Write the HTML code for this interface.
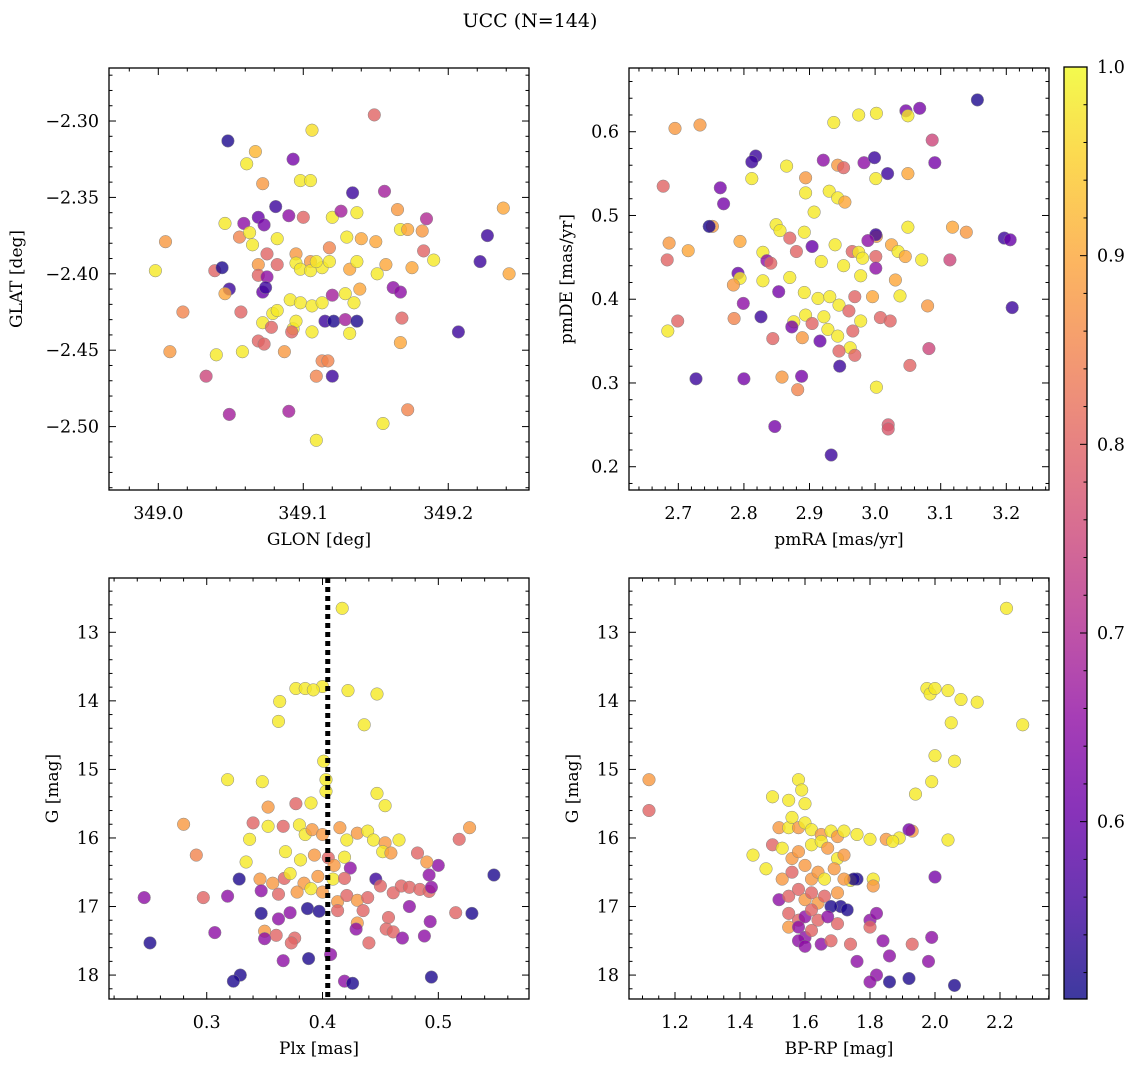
<!DOCTYPE html>
<html><head><meta charset="utf-8"><style>
html,body{margin:0;padding:0;background:#fff;}
svg{display:block;font-family:"DejaVu Serif","Liberation Serif",serif;}
</style></head><body>
<svg id="fig" width="1136" height="1067" viewBox="0 0 1136 1067" xmlns="http://www.w3.org/2000/svg">
<defs><linearGradient id="cbgrad" x1="0" y1="1" x2="0" y2="0"></linearGradient></defs>
<text x="530" y="27" font-size="19" text-anchor="middle">UCC (N=144)</text>
</svg>
<script>
// ---- Panel 1: GLON / GLAT ----
const tlGlon=[349.048,349.149,349.106,349.067,349.061,349.093,349.098,349.105,349.072,349.134,349.156,349.081,349.137,349.165,349.238,349.046,349.059,349.069,349.073,349.090,349.100,349.120,349.126,349.185,349.056,349.063,349.082,349.005,349.065,349.075,349.095,349.105,349.118,349.130,349.140,349.150,349.167,349.172,349.182,349.227,349.222,348.998,349.039,349.044,349.049,349.069,349.069,349.075,349.082,349.095,349.098,349.105,349.113,349.118,349.109,349.132,349.137,349.151,349.157,349.175,349.183,349.190,349.242,349.046,349.057,349.072,349.074,349.079,349.082,349.091,349.098,349.106,349.113,349.120,349.129,349.135,349.139,349.162,349.167,349.017,349.072,349.078,349.093,349.106,349.095,349.115,349.121,349.129,349.137,349.168,349.008,349.040,349.058,349.069,349.073,349.087,349.092,349.132,349.167,349.207,349.113,349.117,349.109,349.120,349.033,349.049,349.090,349.155,349.172,349.109];
const tlGlat=[-2.313,-2.296,-2.306,-2.320,-2.328,-2.325,-2.339,-2.339,-2.341,-2.347,-2.346,-2.356,-2.360,-2.358,-2.357,-2.367,-2.367,-2.363,-2.368,-2.362,-2.363,-2.363,-2.359,-2.364,-2.376,-2.373,-2.377,-2.379,-2.381,-2.387,-2.387,-2.392,-2.383,-2.376,-2.377,-2.379,-2.371,-2.371,-2.372,-2.375,-2.392,-2.398,-2.398,-2.396,-2.410,-2.394,-2.401,-2.402,-2.394,-2.393,-2.397,-2.398,-2.396,-2.392,-2.392,-2.397,-2.392,-2.400,-2.394,-2.396,-2.385,-2.391,-2.400,-2.413,-2.425,-2.412,-2.409,-2.426,-2.424,-2.417,-2.419,-2.421,-2.419,-2.414,-2.413,-2.419,-2.410,-2.409,-2.412,-2.425,-2.432,-2.435,-2.436,-2.438,-2.431,-2.431,-2.431,-2.430,-2.431,-2.429,-2.451,-2.453,-2.451,-2.444,-2.446,-2.451,-2.438,-2.439,-2.445,-2.438,-2.457,-2.457,-2.467,-2.467,-2.467,-2.492,-2.490,-2.498,-2.489,-2.509];
const tlProb=[.52,.80,.97,.92,.98,.62,.98,.98,.88,.55,.68,.55,.98,.88,.90,.98,.65,.60,.62,.65,.80,.98,.68,.70,.85,.98,.98,.88,.98,.80,.88,.88,.85,.98,.90,.90,.98,.90,.88,.55,.55,.98,.80,.52,.55,.88,.80,.65,.80,.98,.98,.98,.98,.98,.98,.90,.98,.98,.90,.90,.80,.98,.90,.90,.80,.60,.55,.98,.98,.98,.98,.98,.98,.68,.98,.98,.90,.65,.65,.85,.98,.80,.98,.98,.98,.55,.52,.68,.52,.80,.88,.98,.98,.80,.80,.88,.80,.98,.90,.55,.85,.85,.85,.55,.75,.68,.68,.98,.85,.98];
// ---- Panel 2: pmRA / pmDE ----
const trPmra=[3.156,3.047,3.068,2.695,2.733,2.937,2.975,3.002,3.050,3.087,2.921,2.943,2.818,2.812,2.983,2.952,2.999,3.091,2.865,3.019,2.812,2.894,3.001,3.050,2.677,2.764,2.769,2.894,2.930,2.943,2.954,2.907,2.752,2.747,2.849,2.855,2.870,2.892,3.002,3.001,3.050,3.118,3.139,2.686,2.715,2.683,2.794,2.829,2.904,2.939,2.965,2.975,2.989,3.025,3.035,2.981,3.001,3.046,3.071,3.114,3.197,3.206,2.835,2.841,2.880,2.918,2.952,3.001,2.791,2.794,2.784,2.978,3.031,2.799,2.829,2.853,2.870,2.892,2.913,2.931,2.945,2.969,2.996,3.080,3.038,2.785,2.826,2.876,2.894,2.922,2.904,2.960,2.978,3.008,3.023,3.209,2.684,2.699,2.873,2.928,2.943,2.966,2.962,2.945,2.889,2.844,2.916,2.969,3.082,2.858,2.888,2.727,2.800,3.002,2.882,2.946,3.053,2.847,3.020,3.020,2.933];
const trPmde=[0.638,0.625,0.628,0.604,0.608,0.611,0.620,0.622,0.619,0.590,0.566,0.560,0.571,0.564,0.563,0.557,0.569,0.563,0.559,0.550,0.544,0.545,0.544,0.550,0.535,0.533,0.514,0.527,0.529,0.521,0.516,0.504,0.487,0.487,0.489,0.482,0.473,0.480,0.475,0.477,0.486,0.486,0.480,0.467,0.458,0.447,0.469,0.456,0.463,0.465,0.457,0.456,0.470,0.465,0.457,0.449,0.451,0.451,0.447,0.447,0.473,0.471,0.446,0.443,0.457,0.445,0.440,0.437,0.431,0.425,0.417,0.428,0.423,0.395,0.422,0.409,0.426,0.408,0.401,0.403,0.393,0.403,0.403,0.392,0.404,0.377,0.379,0.373,0.381,0.379,0.371,0.386,0.374,0.378,0.374,0.390,0.362,0.374,0.367,0.364,0.356,0.362,0.342,0.338,0.354,0.353,0.350,0.333,0.341,0.307,0.308,0.305,0.305,0.295,0.292,0.320,0.321,0.248,0.250,0.245,0.214];
const trProb=[.52,.62,.62,.88,.88,.98,.98,.98,.98,.75,.65,.88,.55,.55,.65,.80,.55,.62,.98,.55,.98,.88,.98,.90,.80,.62,.62,.98,.98,.98,.90,.98,.88,.52,.98,.98,.80,.98,.90,.55,.98,.90,.88,.88,.90,.80,.90,.98,.60,.98,.80,.98,.65,.90,.98,.98,.80,.90,.98,.75,.55,.60,.65,.80,.80,.98,.98,.65,.60,.98,.88,.98,.90,.65,.98,.62,.98,.98,.98,.98,.98,.80,.90,.88,.98,.85,.55,.98,.98,.98,.80,.80,.98,.80,.80,.55,.98,.80,.62,.98,.98,.80,.98,.80,.88,.80,.60,.80,.75,.88,.62,.55,.62,.98,.85,.55,.80,.62,.78,.78,.55];
// ---- Panel 3: Plx / G ----
const blPlx=[0.417,0.377,0.385,0.400,0.392,0.422,0.447,0.363,0.436,0.362,0.401,0.318,0.348,0.403,0.403,0.353,0.377,0.340,0.280,0.390,0.447,0.454,0.518,0.527,0.337,0.353,0.366,0.380,0.385,0.391,0.400,0.415,0.421,0.430,0.439,0.444,0.454,0.466,0.291,0.334,0.368,0.381,0.393,0.405,0.410,0.419,0.424,0.452,0.459,0.482,0.500,0.490,0.328,0.346,0.357,0.367,0.372,0.384,0.396,0.409,0.419,0.446,0.450,0.461,0.468,0.475,0.484,0.492,0.492,0.548,0.246,0.297,0.318,0.347,0.362,0.378,0.390,0.400,0.413,0.421,0.430,0.439,0.494,0.347,0.362,0.372,0.387,0.397,0.413,0.435,0.457,0.475,0.515,0.529,0.493,0.307,0.350,0.360,0.376,0.350,0.373,0.430,0.429,0.455,0.461,0.488,0.469,0.440,0.251,0.366,0.388,0.407,0.329,0.323,0.419,0.426,0.494];
const blG=[12.65,13.82,13.82,13.79,13.84,13.85,13.90,14.01,14.35,14.30,14.88,15.15,15.18,15.15,15.32,15.55,15.50,15.78,15.80,15.49,15.35,15.53,16.02,15.85,16.02,15.83,15.83,15.81,15.95,15.88,15.95,15.85,16.03,15.93,15.90,16.03,16.07,16.03,16.25,16.35,16.20,16.32,16.25,16.29,16.40,16.28,16.44,16.20,16.22,16.22,16.40,16.35,16.60,16.60,16.66,16.59,16.52,16.66,16.56,16.60,16.59,16.60,16.70,16.80,16.70,16.72,16.75,16.78,16.54,16.54,16.87,16.87,16.85,16.77,16.82,16.79,16.74,16.79,16.93,16.84,16.91,16.87,16.72,17.10,17.18,17.09,17.03,17.07,17.06,17.06,17.16,17.00,17.09,17.10,17.22,17.38,17.36,17.42,17.46,17.47,17.53,17.24,17.33,17.33,17.37,17.43,17.46,17.53,17.53,17.79,17.76,17.70,18.00,18.09,18.09,18.12,18.03];
const blProb=[.98,.98,.98,.98,.98,.98,.98,.98,.98,.98,.98,.98,.98,.98,.98,.88,.80,.80,.88,.98,.98,.98,.80,.88,.98,.98,.80,.98,.98,.88,.88,.88,.98,.88,.98,.98,.88,.98,.85,.98,.98,.98,.88,.80,.88,.98,.65,.98,.88,.80,.65,.88,.52,.88,.88,.80,.98,.88,.88,.98,.80,.55,.80,.80,.80,.80,.80,.80,.65,.52,.65,.80,.65,.65,.80,.88,.98,.88,.88,.80,.88,.80,.65,.52,.65,.65,.52,.52,.80,.80,.80,.65,.80,.52,.65,.65,.88,.80,.80,.65,.80,.88,.65,.80,.80,.65,.65,.80,.52,.65,.52,.65,.52,.52,.65,.52,.52];
// ---- Panel 4: BP-RP / G ----
const brBprp=[2.22,1.975,1.985,2.00,2.04,2.08,2.13,2.05,2.27,2.00,2.06,1.99,1.94,2.04,1.93,1.92,1.89,1.85,1.87,1.80,2.00,1.76,1.74,1.81,1.81,1.12,1.12,1.44,1.76,1.82,1.80,1.86,1.92,1.98,2.06,1.99,1.93,1.86,1.84,1.80,1.82,1.80,1.74,1.70,1.71,1.73,1.75,1.50,1.55,1.58,1.59,1.60,1.52,1.55,1.56,1.58,1.60,1.62,1.65,1.68,1.70,1.72,1.76,1.50,1.53,1.56,1.58,1.62,1.65,1.67,1.70,1.72,1.48,1.53,1.56,1.60,1.62,1.64,1.66,1.69,1.72,1.52,1.55,1.58,1.60,1.62,1.64,1.66,1.68,1.70,1.55,1.58,1.60,1.62,1.64,1.67,1.55,1.58,1.60,1.62,1.65,1.58,1.60,1.68];
const brG=[12.65,13.82,13.90,13.82,13.85,13.98,14.02,14.32,14.35,14.80,14.88,15.18,15.36,16.03,15.90,15.88,16.00,16.02,16.05,16.02,16.57,16.60,16.62,16.60,16.70,15.15,15.60,16.25,17.80,18.00,18.10,18.10,18.05,17.80,18.15,17.45,17.55,17.72,17.50,17.20,17.10,17.30,17.55,17.25,17.00,17.05,16.60,15.40,15.45,15.15,15.30,15.50,15.85,15.85,15.70,15.85,15.78,15.88,15.95,15.90,15.98,15.90,15.95,16.10,16.15,16.30,16.20,16.10,16.05,16.15,16.30,16.25,16.45,16.60,16.50,16.40,16.60,16.50,16.60,16.45,16.60,16.90,16.85,16.75,16.90,16.80,16.95,16.85,17.00,16.80,17.10,17.20,17.15,17.05,17.20,17.15,17.30,17.30,17.45,17.35,17.55,17.50,17.58,17.50];
const brProb=[.98,.98,.98,.98,.98,.98,.98,.98,.98,.98,.98,.98,.98,.98,.88,.62,.98,.88,.98,.98,.62,.52,.98,.98,.88,.88,.80,.98,.65,.65,.65,.52,.52,.65,.52,.65,.80,.65,.65,.65,.65,.80,.80,.80,.52,.52,.52,.98,.98,.98,.98,.98,.88,.98,.98,.88,.98,.98,.88,.98,.88,.98,.98,.80,.98,.88,.88,.98,.98,.88,.98,.88,.98,.88,.80,.88,.88,.88,.98,.88,.88,.65,.80,.80,.88,.80,.88,.80,.52,.88,.80,.80,.65,.80,.80,.65,.88,.65,.65,.80,.65,.65,.65,.80];
// ---- Colorbar ----
const cbTicks=[0.6,0.7,0.8,0.9,1.0];
const plxRef=[0.4045];

const NS="http://www.w3.org/2000/svg";
const svg=document.getElementById('fig');
const VMIN=0.506,VMAX=1.0;
const TICKFS=17.5;
const plasma=[[13,8,135],[65,4,157],[106,0,168],[143,13,164],[177,42,144],[204,71,120],[225,100,98],[242,132,75],[252,166,54],[252,206,37],[240,249,33]];
function cmap(v){let t=(v-VMIN)/(VMAX-VMIN);t=Math.max(0,Math.min(1,t))*10;const i=Math.min(9,Math.floor(t)),f=t-i;const a=plasma[i],b=plasma[i+1];return 'rgb('+[0,1,2].map(k=>Math.round(a[k]+(b[k]-a[k])*f)).join(',')+')';}
function el(tag,attrs,parent){const e=document.createElementNS(NS,tag);for(const k in attrs)e.setAttribute(k,attrs[k]);(parent||svg).appendChild(e);return e;}
function fmt(v,d){return v.toFixed(d).replace('-','\u2212');}

function panel(cfg){
  const g=el('g',{});
  
  
  const X=v=>cfg.l+(v-cfg.x0)/(cfg.x1-cfg.x0)*(cfg.r-cfg.l);
  const Y=v=>cfg.t+(v-cfg.y0)/(cfg.y1-cfg.y0)*(cfg.b-cfg.t);
  const pg=el('g',{},g);
  
  
  for(let i=0;i<cfg.xs.length;i++){
    const c=el('circle',{cx:X(cfg.xs[i]).toFixed(1),cy:Y(cfg.ys[i]).toFixed(1),r:6.3,fill:cmap(cfg.cs[i]),'fill-opacity':0.8,stroke:'#888','stroke-width':0.5},pg);
    
    
  }
  if(cfg.vline){for(const v of cfg.vline){const ln=el('line',{x1:X(v),x2:X(v),y1:cfg.t,y2:cfg.b,stroke:'#000','stroke-width':5,'stroke-dasharray':'5,4'},g);
    
    }}
  const fr=el('rect',{x:cfg.l,y:cfg.t,width:cfg.r-cfg.l,height:cfg.b-cfg.t,fill:'none',stroke:'#000','stroke-width':1.3},g);
  
  
  const xlo=Math.min(cfg.x0,cfg.x1),xhi=Math.max(cfg.x0,cfg.x1);
  for(let k=Math.ceil(xlo/cfg.xm-1e-6);k*cfg.xm<=xhi+1e-9;k++){const v=k*cfg.xm,x=X(v);
    const major=Math.abs(v/cfg.xM-Math.round(v/cfg.xM))<1e-4;const L=major?7:3.5;
    el('line',{x1:x,x2:x,y1:cfg.b,y2:cfg.b-L,stroke:'#000','stroke-width':1},g);
    el('line',{x1:x,x2:x,y1:cfg.t,y2:cfg.t+L,stroke:'#000','stroke-width':1},g);}
  for(const v of cfg.xT){const t=el('text',{x:X(v),y:cfg.b+29,'font-size':TICKFS,'text-anchor':'middle'},g);t.textContent=fmt(v,cfg.xd);
    
    }
  const ylo=Math.min(cfg.y0,cfg.y1),yhi=Math.max(cfg.y0,cfg.y1);
  for(let k=Math.ceil(ylo/cfg.ym-1e-6);k*cfg.ym<=yhi+1e-9;k++){const v=k*cfg.ym,y=Y(v);
    const major=Math.abs(v/cfg.yM-Math.round(v/cfg.yM))<1e-4;const L=major?7:3.5;
    el('line',{x1:cfg.l,x2:cfg.l+L,y1:y,y2:y,stroke:'#000','stroke-width':1},g);
    el('line',{x1:cfg.r,x2:cfg.r-L,y1:y,y2:y,stroke:'#000','stroke-width':1},g);}
  for(const v of cfg.yT){const t=el('text',{x:cfg.l-10,y:Y(v)+6,'font-size':TICKFS,'text-anchor':'end'},g);t.textContent=fmt(v,cfg.yd);
    
    }
  const xt=el('text',{x:(cfg.l+cfg.r)/2,y:cfg.b+55,'font-size':17,'text-anchor':'middle'},g);xt.textContent=cfg.xlab;
  
  
  const yc=(cfg.t+cfg.b)/2;
  const yt=el('text',{x:cfg.ylx,y:yc,'font-size':17,'text-anchor':'middle',transform:'rotate(-90 '+cfg.ylx+' '+yc+')'},g);yt.textContent=cfg.ylab;
  
  
}
panel({name:'glon-glat-panel',l:109,r:529,t:68,b:490,x0:348.966,x1:349.2557,y0:-2.2653,y1:-2.5415,xs:tlGlon,ys:tlGlat,cs:tlProb,xm:0.02,xM:0.1,ym:0.01,yM:0.05,xT:[349.0,349.1,349.2],xd:1,yT:[-2.30,-2.35,-2.40,-2.45,-2.50],yd:2,xlab:'GLON [deg]',ylab:'GLAT [deg]',ylx:22});
panel({name:'pm-panel',l:629,r:1049,t:68,b:490,x0:2.6248,x1:3.2651,y0:0.6761,y1:0.1722,xs:trPmra,ys:trPmde,cs:trProb,xm:0.02,xM:0.1,ym:0.02,yM:0.1,xT:[2.7,2.8,2.9,3.0,3.1,3.2],xd:1,yT:[0.2,0.3,0.4,0.5,0.6],yd:1,xlab:'pmRA [mas/yr]',ylab:'pmDE [mas/yr]',ylx:572});
panel({name:'plx-g-panel',l:109,r:529,t:578,b:999,x0:0.2156,x1:0.5783,y0:12.208,y1:18.349,xs:blPlx,ys:blG,cs:blProb,xm:0.02,xM:0.1,ym:0.2,yM:1,xT:[0.3,0.4,0.5],xd:1,yT:[13,14,15,16,17,18],yd:0,xlab:'Plx [mas]',ylab:'G [mag]',ylx:58,vline:plxRef});
panel({name:'cmd-panel',l:629,r:1049,t:578,b:999,x0:1.0585,x1:2.3508,y0:12.208,y1:18.349,xs:brBprp,ys:brG,cs:brProb,xm:0.05,xM:0.2,ym:0.2,yM:1,xT:[1.2,1.4,1.6,1.8,2.0,2.2],xd:1,yT:[13,14,15,16,17,18],yd:0,xlab:'BP-RP [mag]',ylab:'G [mag]',ylx:578});

const grad=document.getElementById('cbgrad');
for(let i=0;i<=20;i++){const v=VMIN+(VMAX-VMIN)*i/20;el('stop',{offset:(i/20),'stop-color':cmap(v),'stop-opacity':0.8},grad);}
const CB={l:1064,r:1087,t:67,b:999};
const CY=v=>CB.t+(VMAX-v)/(VMAX-VMIN)*(CB.b-CB.t);
const cbg=el('g',{});


el('rect',{x:CB.l,y:CB.t,width:CB.r-CB.l,height:CB.b-CB.t,fill:'url(#cbgrad)',stroke:'#000','stroke-width':1.3},cbg);
for(let k=Math.ceil(VMIN/0.02);k*0.02<=VMAX+1e-9;k++){const v=k*0.02,y=CY(v);const major=Math.abs(v*10-Math.round(v*10))<1e-4;
  el('line',{x1:CB.r,x2:CB.r-(major?7:3.5),y1:y,y2:y,stroke:'#000','stroke-width':1},cbg);}
for(const v of cbTicks){const t=el('text',{x:CB.r+10,y:CY(v)+6,'font-size':TICKFS},cbg);t.textContent=v.toFixed(1);
  
  }
</script>
</body></html>
